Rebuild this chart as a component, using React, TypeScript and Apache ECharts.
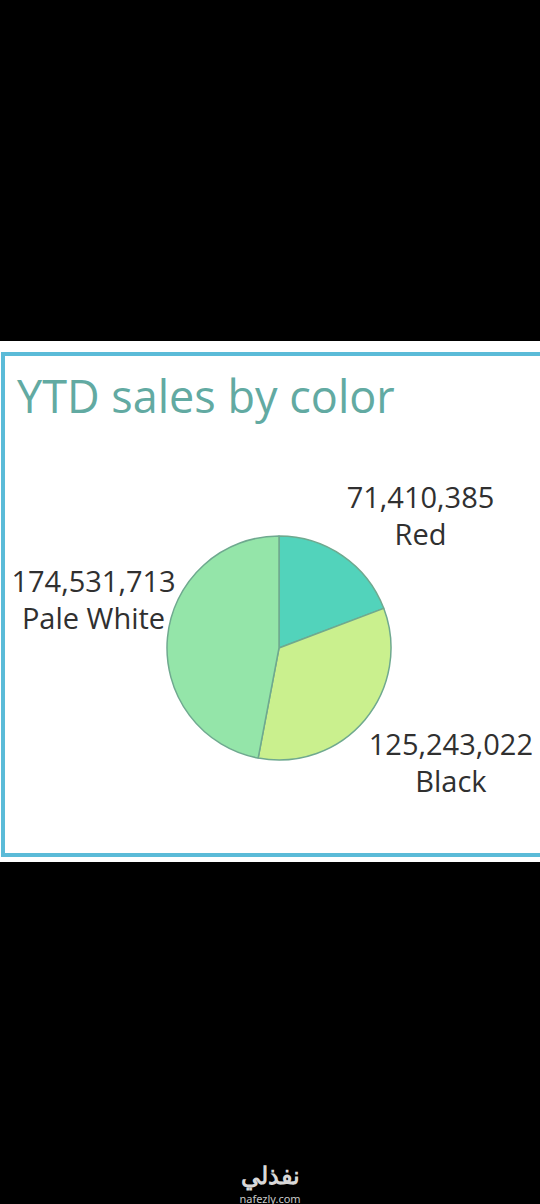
import React, { useEffect, useRef } from "react";
import * as echarts from "echarts";

const categories = ["Red", "Black", "Pale White"];
const salesValues = [71410385, 125243022, 174531713];
const sliceColors = ["#52d3bb", "#caf08e", "#94e5a9"];
const titleText = "YTD sales by color";

export default function App() {
  const ref = useRef<HTMLDivElement>(null);

  useEffect(() => {
    document.body.style.margin = "0";
    document.body.style.background = "#000";
    const chart = echarts.init(ref.current!, null, { renderer: "svg" });
    const fmt = (v: number) => v.toLocaleString("en-US");
    // label nudges (Tableau-style placement), by slice order
    const labelShift = [
      { dx: -18, dy: -16 },
      { dx: -24, dy: 23 },
      { dx: 43, dy: -36 },
    ];
    chart.setOption({
      animation: false,
      backgroundColor: "#000",
      title: {
        text: titleText,
        left: 12,
        top: 368,
        textStyle: {
          fontFamily: "Open Sans",
          fontSize: 45,
          fontWeight: "normal",
          color: "#62aaa2",
        },
      },
      graphic: [
        {
          type: "rect",
          z: -10,
          shape: { x: 0, y: 341, width: 540, height: 521 },
          style: { fill: "#ffffff" },
        },
        {
          type: "rect",
          z: -9,
          shape: { x: 3, y: 354, width: 560, height: 501 },
          style: { fill: "none", stroke: "#5bbbd8", lineWidth: 4 },
        },
        {
          type: "text",
          x: 270,
          y: 1174,
          style: {
            text: "نفذلي",
            fontFamily: "Noto Sans",
            fontWeight: "bold",
            fontSize: 24,
            fill: "#d8d8d8",
            align: "center",
            verticalAlign: "middle",
          },
        },
        {
          type: "text",
          x: 270,
          y: 1198,
          style: {
            text: "nafezly.com",
            fontFamily: "Noto Sans",
            fontSize: 11,
            fill: "#c8c8c8",
            align: "center",
            verticalAlign: "middle",
          },
        },
      ],
      series: [
        {
          type: "pie",
          center: [279, 648],
          radius: 112,
          startAngle: 90,
          clockwise: true,
          avoidLabelOverlap: false,
          itemStyle: { borderColor: "#6fa98f", borderWidth: 1.5 },
          emphasis: { disabled: true },
          label: {
            show: true,
            position: "outside",
            overflow: "none",
            formatter: (p: any) => `{a|${fmt(p.value)}}\n{a|${p.name}}`,
            rich: {
              a: {
                fontFamily: "Open Sans",
                fontSize: 29,
                fontWeight: 500,
                color: "#303030",
                align: "center",
                lineHeight: 37,
              },
            },
          },
          labelLine: { show: false, length: 30, length2: 0 },
          labelLayout: (p: any) => labelShift[p.dataIndex],
          data: categories.map((name, i) => ({
            name,
            value: salesValues[i],
            itemStyle: { color: sliceColors[i] },
          })),
        },
      ],
    });
    return () => chart.dispose();
  }, []);

  return (
    <div
      ref={ref}
      style={{ position: "absolute", left: 0, top: 0, width: 540, height: 1204 }}
    />
  );
}
